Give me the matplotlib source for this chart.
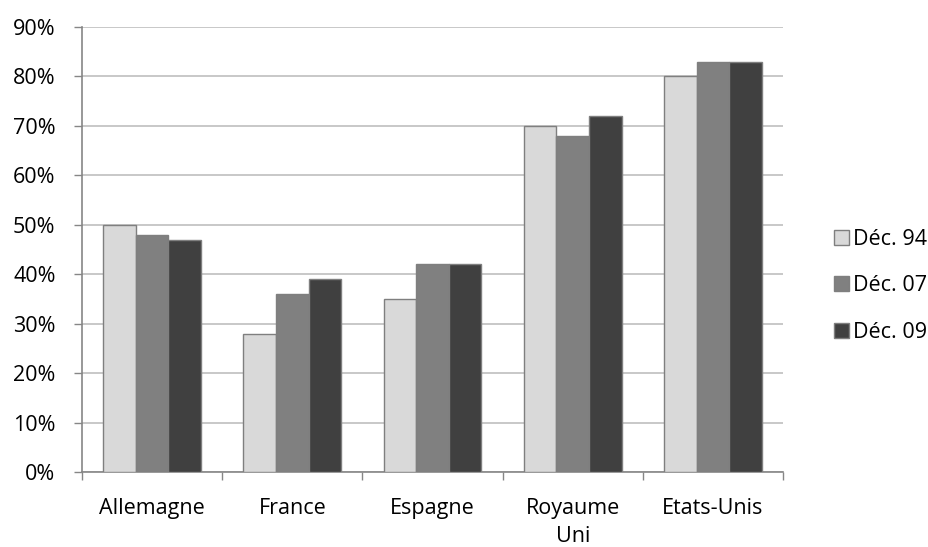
import matplotlib
matplotlib.use("Agg")
import matplotlib.pyplot as plt
import numpy as np
from matplotlib.patches import Patch

categories = ["Allemagne", "France", "Espagne", "Royaume\nUni", "Etats-Unis"]
series_names = ["Déc. 94", "Déc. 07", "Déc. 09"]
dec94 = [50, 28, 35, 70, 80]
dec07 = [48, 36, 42, 68, 83]
dec09 = [47, 39, 42, 72, 83]
yticks = [0, 10, 20, 30, 40, 50, 60, 70, 80, 90]

colors = ["#D9D9D9", "#808080", "#404040"]
edge = "#7F7F7F"

plt.rcParams['font.family'] = ['Open Sans', 'DejaVu Sans']
FS = 15.5

fig = plt.figure(figsize=(9.29, 5.47), dpi=100)
ax = fig.add_axes([82/929, 1-472/547, (783-82)/929, (472-27)/547])

x = np.arange(len(categories))
w = 0.233
for i, (vals, name) in enumerate(zip([dec94, dec07, dec09], series_names)):
    ax.bar(x + (i-1)*w, vals, width=w, color=colors[i], edgecolor=edge,
           linewidth=1.0, label=name, zorder=3)

ax.set_xlim(-0.5, len(categories)-0.5)
ax.set_ylim(0, 90)
ax.set_yticks(yticks)
ax.set_yticklabels([f"{v}%" for v in yticks], fontsize=FS)
ax.yaxis.grid(True, color="#BFBFBF", linewidth=1.2, zorder=0)
ax.set_axisbelow(True)

ax.set_xticks(x)
ax.set_xticklabels(categories, fontsize=FS, linespacing=1.4)
ax.tick_params(axis='x', length=0, pad=19)
ax.set_xticks(np.arange(len(categories)+1)-0.5, minor=True)
ax.tick_params(axis='x', which='minor', length=6, color="#868686", width=1)
ax.tick_params(axis='y', length=6, color="#868686", width=1, pad=13)

for s in ["top", "right"]:
    ax.spines[s].set_visible(False)
for s in ["left", "bottom"]:
    ax.spines[s].set_color("#868686")
    ax.spines[s].set_linewidth(1.2)

handles = [Patch(facecolor=c, edgecolor=edge, label=n) for c, n in zip(colors, series_names)]
fig.legend(handles=handles, loc="center left", bbox_to_anchor=(823/929, 1-286/547),
           frameon=False, fontsize=FS, handlelength=0.7, handleheight=0.7,
           handletextpad=0.2, labelspacing=1.2, borderpad=0)

fig.savefig("out.png", dpi=100)
